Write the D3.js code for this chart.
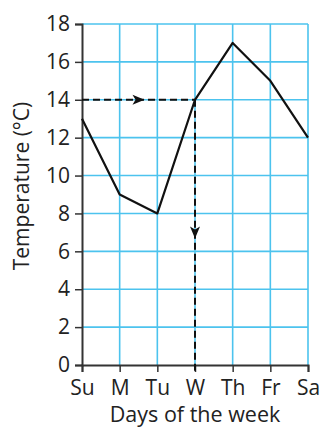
<!DOCTYPE html>
<html><head><meta charset="utf-8">
<script src="https://cdn.jsdelivr.net/npm/d3@7"></script>
<style>body{margin:0;background:#fff}svg{display:block}text{font-family:"Open Sans","Noto Sans",sans-serif;fill:#222}</style>
</head><body><svg id="c" width="323" height="429"></svg>
<script>
const days = ["Su","M","Tu","W","Th","Fr","Sa"];
const temps = [13,9,8,14,17,15,12];
const yTicks = [0,2,4,6,8,10,12,14,16,18];
const readDay = "W";
const readValue = 14;

const svg = d3.select("#c");
const m = {l:82, r:15, t:24, b:64};
const W = 323, H = 429;
const x = d3.scalePoint().domain(days).range([m.l, W - m.r]);
const y = d3.scaleLinear().domain([0,18]).range([H - m.b, m.t]);

const grid = svg.append("g").attr("stroke","#4cc3ee").attr("stroke-width",1.6);
days.slice(1).forEach(d => grid.append("line").attr("x1",x(d)).attr("x2",x(d)).attr("y1",y(0)).attr("y2",y(18)));
yTicks.slice(1).forEach(v => grid.append("line").attr("x1",x("Su")).attr("x2",x("Sa")).attr("y1",y(v)).attr("y2",y(v)));

const ya = svg.append("g").attr("transform",`translate(${m.l},0)`)
  .call(d3.axisLeft(y).tickValues(yTicks).tickSize(7).tickPadding(5));
ya.select(".domain").attr("stroke","#333").attr("stroke-width",2);
ya.selectAll(".tick line").attr("stroke","#333").attr("stroke-width",1.5);
ya.selectAll(".tick text").attr("font-size",21).attr("fill","#222").attr("font-family","'Open Sans',sans-serif");

const xa = svg.append("g").attr("transform",`translate(0,${y(0)})`)
  .call(d3.axisBottom(x).tickSize(7).tickPadding(8));
xa.select(".domain").attr("stroke","#333").attr("stroke-width",2);
xa.selectAll(".tick line").attr("stroke","#333").attr("stroke-width",1.5);
xa.selectAll(".tick text").attr("font-size",21).attr("fill","#222").attr("font-family","'Open Sans',sans-serif");

svg.append("text").attr("x",195).attr("y",422).attr("text-anchor","middle").attr("font-size",21.5).text("Days of the week");
svg.append("text").attr("transform",`translate(29,186) rotate(-90)`).attr("text-anchor","middle").attr("font-size",21).text("Temperature (°C)");

// reading guide
const g = svg.append("g").attr("stroke","#111").attr("stroke-width",2).attr("stroke-dasharray","7,4").attr("fill","none");
g.append("line").attr("x1",x("Su")).attr("x2",x(readDay)).attr("y1",y(readValue)).attr("y2",y(readValue));
g.append("line").attr("x1",x(readDay)).attr("x2",x(readDay)).attr("y1",y(readValue)).attr("y2",y(0)+7);
const ax = x("Su") + (x(readDay)-x("Su"))*0.5, ay = y(readValue);
svg.append("path").attr("d",`M${ax+6},${ay} L${ax-6},${ay-5} L${ax-3},${ay} L${ax-6},${ay+5}Z`).attr("fill","#111");
const bx = x(readDay), by = y(readValue) + (y(0)-y(readValue))*0.5;
svg.append("path").attr("d",`M${bx},${by+6} L${bx-5},${by-6} L${bx},${by-3} L${bx+5},${by-6}Z`).attr("fill","#111");

svg.append("path").datum(temps)
  .attr("d", d3.line().x((d,i)=>x(days[i])).y(d=>y(d)))
  .attr("fill","none").attr("stroke","#111").attr("stroke-width",2.2).attr("stroke-linejoin","round");
</script></body></html>
